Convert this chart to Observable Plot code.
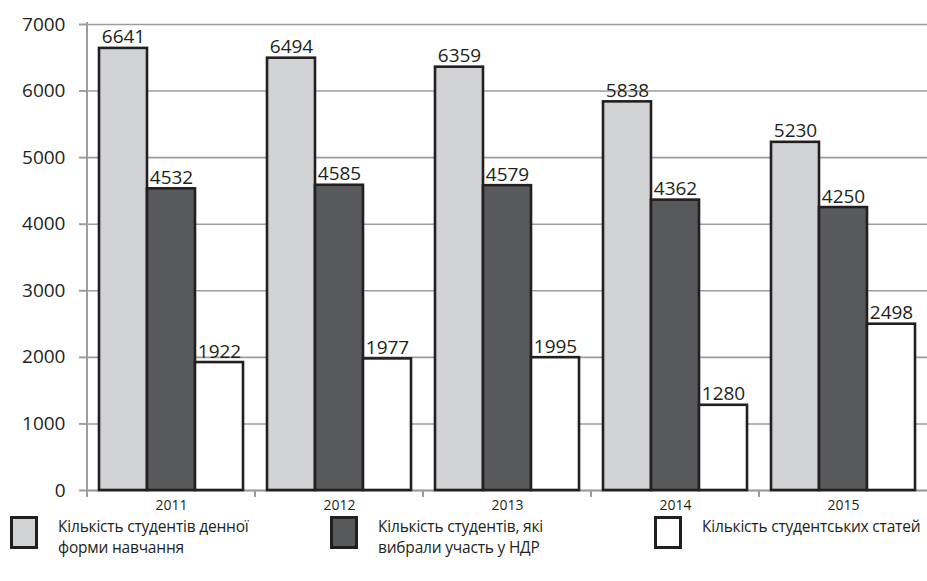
<!DOCTYPE html>
<html>
<head>
<meta charset="utf-8">
<script src="https://cdn.jsdelivr.net/npm/d3@7"></script>
<script src="https://cdn.jsdelivr.net/npm/@observablehq/plot@0.6"></script>
<style>
  html, body { margin: 0; padding: 0; background: #fff; }
  #wrap { width: 927px; height: 581px; position: relative; font-family: "Open Sans", "Noto Sans", sans-serif; color: #231f20; }
  #legend { position: relative; height: 65px; }
  .item { position: absolute; top: 0; display: flex; align-items: flex-start; }
  .sw { width: 22px; height: 27px; border: 3px solid #231f20; margin-top: 0px; }
  .lab { font-size: 15.5px; line-height: 21px; margin-left: 20px; margin-top: 0px; letter-spacing: -0.2px; }
</style>
</head>
<body>
<div id="wrap">
  <div id="chart"></div>
  <div id="legend"></div>
</div>
<script>
const years = ["2011", "2012", "2013", "2014", "2015"];
const seriesNames = [
  "Кількість студентів денної форми навчання",
  "Кількість студентів, які вибрали участь у НДР",
  "Кількість студентських статей"
];
const legendLines = [
  ["Кількість студентів денної", "форми навчання"],
  ["Кількість студентів, які", "вибрали участь у НДР"],
  ["Кількість студентських статей"]
];
const fullTimeStudents = [6641, 6494, 6359, 5838, 5230];
const researchStudents = [4532, 4585, 4579, 4362, 4250];
const studentArticles = [1922, 1977, 1995, 1280, 2498];
const yTicks = [0, 1000, 2000, 3000, 4000, 5000, 6000, 7000];
const colors = ["#d1d2d4", "#58595b", "#ffffff"];

const seriesValues = [fullTimeStudents, researchStudents, studentArticles];
const data = years.flatMap((yr, i) =>
  seriesNames.map((s, j) => ({ year: yr, series: s, value: seriesValues[j][i] }))
);

const chart = Plot.plot({
  width: 927,
  height: 516,
  marginLeft: 86,
  marginRight: 0,
  marginTop: 24,
  marginBottom: 26,
  style: { fontFamily: "'Open Sans', 'Noto Sans', sans-serif", fontSize: "19px", color: "#231f20", background: "#fff", overflow: "visible" },
  fx: { domain: years, paddingInner: 0, paddingOuter: 0, label: null, axis: null },
  x: { domain: seriesNames, paddingInner: 0, paddingOuter: 0.216, axis: null },
  y: { domain: [0, 7000], axis: null },
  color: { domain: seriesNames, range: colors },
  marks: [
    Plot.gridY(yTicks, { stroke: "#9d9d9d", strokeOpacity: 1, strokeWidth: 1.6 }),
    Plot.ruleY([0], { stroke: "#9d9d9d", strokeWidth: 2 }),
    Plot.barY(data, { fx: "year", x: "series", y: "value", fill: "series", stroke: "#231f20", strokeWidth: 2.6 }),
    Plot.text(data, { fx: "year", x: "series", y: "value", text: d => String(d.value), lineAnchor: "bottom", dy: -5, fill: "#231f20", fontSize: 19 }),
    Plot.axisY(yTicks, { tickSize: 8, tickPadding: 14, stroke: "#9d9d9d", strokeWidth: 2, strokeOpacity: 1, fontSize: 19, label: null, tickFormat: d => String(d) }),
    Plot.axisFx({ anchor: "bottom", tickSize: 0, tickPadding: 10, fontSize: 14, label: null })
  ]
});
document.getElementById("chart").appendChild(chart);

// axis line and group boundary ticks from the plot's own scales
const fxs = chart.scale("fx");
const ys = chart.scale("y");
const svg = d3.select(chart);
const y0 = ys.apply(0);
const g = svg.append("g").attr("stroke", "#9d9d9d").attr("stroke-width", 2);
g.append("line")
  .attr("x1", fxs.apply(years[0])).attr("x2", fxs.apply(years[0]))
  .attr("y1", ys.apply(7000) - 2).attr("y2", y0 + 7);
years.slice(1).forEach(yr => {
  const x = fxs.apply(yr);
  g.append("line").attr("x1", x).attr("x2", x).attr("y1", y0).attr("y2", y0 + 7);
});

// legend
const legend = document.getElementById("legend");
const lefts = [10, 330, 654];
seriesNames.forEach((s, j) => {
  const it = document.createElement("div");
  it.className = "item";
  it.style.left = lefts[j] + "px";
  const sw = document.createElement("div");
  sw.className = "sw";
  sw.style.background = colors[j];
  const lab = document.createElement("div");
  lab.className = "lab";
  lab.innerHTML = legendLines[j].join("<br>");
  it.appendChild(sw);
  it.appendChild(lab);
  legend.appendChild(it);
});
</script>
</body>
</html>
